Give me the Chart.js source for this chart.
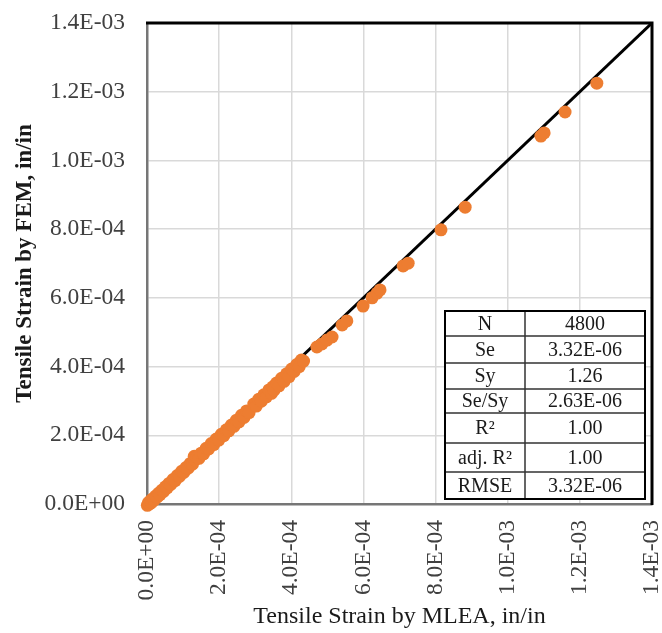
<!DOCTYPE html>
<html>
<head>
<meta charset="utf-8">
<script src="https://cdn.jsdelivr.net/npm/chart.js@4"></script>
<style>
  html, body { margin: 0; padding: 0; background: #fff; }
</style>
</head>
<body>
<canvas id="strainChart" width="662" height="633"></canvas>
<script>
// Tensile strain: MLEA prediction vs FEM result
const mlea = [
  1e-6, 4e-6, 7e-6, 10e-6, 13e-6, 16e-6, 20e-6, 24e-6, 28e-6, 32e-6,
  36e-6, 41e-6, 46e-6, 51e-6, 56e-6, 61e-6, 66e-6, 72e-6, 78e-6, 84e-6,
  90e-6, 96e-6, 102e-6, 108e-6, 114e-6, 120e-6, 126e-6, 131e-6, 133e-6, 138e-6,
  144e-6, 150e-6, 157e-6, 164e-6, 171e-6, 178e-6, 185e-6, 192e-6, 199e-6, 206e-6,
  213e-6, 220e-6, 227e-6, 234e-6, 241e-6, 248e-6, 255e-6, 262e-6, 269e-6, 276e-6,
  283e-6, 296e-6, 303e-6, 310e-6, 317e-6, 324e-6, 331e-6, 338e-6, 345e-6, 349e-6,
  352e-6, 359e-6, 366e-6, 373e-6, 380e-6, 387e-6, 394e-6, 401e-6, 408e-6, 415e-6,
  422e-6, 428e-6, 434e-6,
  471e-6, 485e-6, 499e-6, 513e-6, 541e-6, 554e-6, 599e-6, 624e-6, 638e-6, 646e-6,
  710e-6, 724e-6, 815e-6, 882e-6, 1092e-6, 1101e-6, 1159e-6, 1247e-6
];
const fem = [
  -4e-6, 4e-6, 0, 10e-6, 5e-6, 15e-6, 12e-6, 23e-6, 20e-6, 31e-6,
  27e-6, 40e-6, 37e-6, 50e-6, 47e-6, 60e-6, 57e-6, 71e-6, 68e-6, 83e-6,
  80e-6, 95e-6, 92e-6, 106e-6, 104e-6, 118e-6, 116e-6, 139e-6, 128e-6, 136e-6,
  133e-6, 148e-6, 146e-6, 162e-6, 160e-6, 176e-6, 173e-6, 189e-6, 186e-6, 203e-6,
  199e-6, 216e-6, 213e-6, 230e-6, 226e-6, 244e-6, 239e-6, 258e-6, 252e-6, 271e-6,
  266e-6, 291e-6, 285e-6, 305e-6, 299e-6, 318e-6, 312e-6, 332e-6, 322e-6, 341e-6,
  331e-6, 352e-6, 344e-6, 366e-6, 357e-6, 379e-6, 371e-6, 393e-6, 386e-6, 406e-6,
  400e-6, 419e-6, 416e-6,
  457e-6, 466e-6, 477e-6, 486e-6, 521e-6, 533e-6, 576e-6, 600e-6, 614e-6, 623e-6,
  693e-6, 701e-6, 798e-6, 864e-6, 1071e-6, 1080e-6, 1141e-6, 1225e-6
];

// 1:1 reference line
const lineEnds = [0, 1.4e-3];

const tickValues = [0, 2e-4, 4e-4, 6e-4, 8e-4, 1e-3, 1.2e-3, 1.4e-3];
const tickLabels = ['0.0E+00', '2.0E-04', '4.0E-04', '6.0E-04', '8.0E-04', '1.0E-03', '1.2E-03', '1.4E-03'];

// goodness-of-fit summary
const statNames = ['N', 'Se', 'Sy', 'Se/Sy', 'R²', 'adj. R²', 'RMSE'];
const statValues = ['4800', '3.32E-06', '1.26', '2.63E-06', '1.00', '1.00', '3.32E-06'];

const serif = "'Liberation Serif', 'Times New Roman', serif";

const statsTable = {
  id: 'statsTable',
  afterDatasetsDraw(chart) {
    const { ctx, chartArea: a } = chart;
    ctx.save();

    // closing frame on top and right
    ctx.strokeStyle = '#000';
    ctx.lineWidth = 3;
    ctx.beginPath();
    ctx.moveTo(a.left - 1, a.top);
    ctx.lineTo(a.right, a.top);
    ctx.lineTo(a.right, a.bottom + 1);
    ctx.stroke();

    const rowH = [25, 27, 26, 24, 30, 29, 27];
    const left = a.right - 207, right = a.right - 7, split = left + 80;
    const bottom = a.bottom - 5;
    const top = bottom - rowH.reduce((s, h) => s + h, 0);

    ctx.fillStyle = '#fff';
    ctx.fillRect(left, top, right - left, bottom - top);

    ctx.strokeStyle = '#333';
    ctx.lineWidth = 1.5;
    ctx.beginPath();
    let y = top;
    rowH.forEach((h, i) => {
      if (i > 0) { ctx.moveTo(left, y); ctx.lineTo(right, y); }
      y += h;
    });
    ctx.moveTo(split, top);
    ctx.lineTo(split, bottom);
    ctx.stroke();

    ctx.strokeStyle = '#000';
    ctx.lineWidth = 2;
    ctx.strokeRect(left, top, right - left, bottom - top);

    ctx.fillStyle = '#1a1a1a';
    ctx.font = '20px ' + serif;
    ctx.textAlign = 'center';
    ctx.textBaseline = 'middle';
    y = top;
    rowH.forEach((h, i) => {
      const cy = y + h / 2 + 1;
      ctx.fillText(statNames[i], (left + split) / 2, cy);
      ctx.fillText(statValues[i], (split + right) / 2, cy);
      y += h;
    });
    ctx.restore();
  }
};

const setTicks = (scale) => {
  scale.ticks = tickValues.map(v => ({ value: v }));
};

new Chart(document.getElementById('strainChart').getContext('2d'), {
  type: 'scatter',
  data: {
    datasets: [
      {
        label: 'Tensile strain',
        data: mlea.map((x, i) => ({ x: x, y: fem[i] })),
        backgroundColor: '#ED7D31',
        borderColor: '#ED7D31',
        pointRadius: 6.5,
        pointBorderWidth: 0,
        clip: false
      },
      {
        type: 'line',
        label: '1:1',
        data: lineEnds.map(v => ({ x: v, y: v })),
        borderColor: '#000',
        borderWidth: 3,
        pointRadius: 0,
        fill: false
      }
    ]
  },
  options: {
    responsive: false,
    animation: false,
    layout: { padding: { top: 23, right: 10, left: 0, bottom: 0 } },
    plugins: {
      legend: { display: false },
      tooltip: { enabled: false }
    },
    scales: {
      x: {
        type: 'linear',
        min: 0,
        max: 1.4e-3,
        afterBuildTicks: setTicks,
        afterFit(scale) {
          scale.height = 129;
          scale.paddingLeft = 0;
          scale.paddingRight = 0;
        },
        grid: { color: '#d9d9d9', lineWidth: 1.5, drawTicks: false },
        border: { color: '#767676', width: 2.5 },
        ticks: {
          minRotation: 90,
          maxRotation: 90,
          padding: 16,
          color: '#404040',
          font: { family: serif, size: 23.5 },
          callback: (v, i) => tickLabels[i]
        },
        title: {
          display: true,
          text: 'Tensile Strain by MLEA, in/in',
          color: '#1a1a1a',
          font: { family: serif, size: 24 },
          padding: { top: 0, bottom: 2 }
        }
      },
      y: {
        type: 'linear',
        min: 0,
        max: 1.4e-3,
        afterBuildTicks: setTicks,
        afterFit(scale) {
          scale.width = 147;
          scale.paddingTop = 0;
          scale.paddingBottom = 0;
        },
        grid: { color: '#d9d9d9', lineWidth: 1.5, drawTicks: false },
        border: { color: '#767676', width: 2.5 },
        ticks: {
          padding: 22,
          color: '#404040',
          font: { family: serif, size: 23.5 },
          callback: (v, i) => tickLabels[i]
        },
        title: {
          display: true,
          text: 'Tensile Strain by FEM, in/in',
          color: '#1a1a1a',
          font: { family: serif, size: 23, weight: 'bold' },
          padding: { top: 11, bottom: 0 }
        }
      }
    }
  },
  plugins: [statsTable]
});
</script>
</body>
</html>
